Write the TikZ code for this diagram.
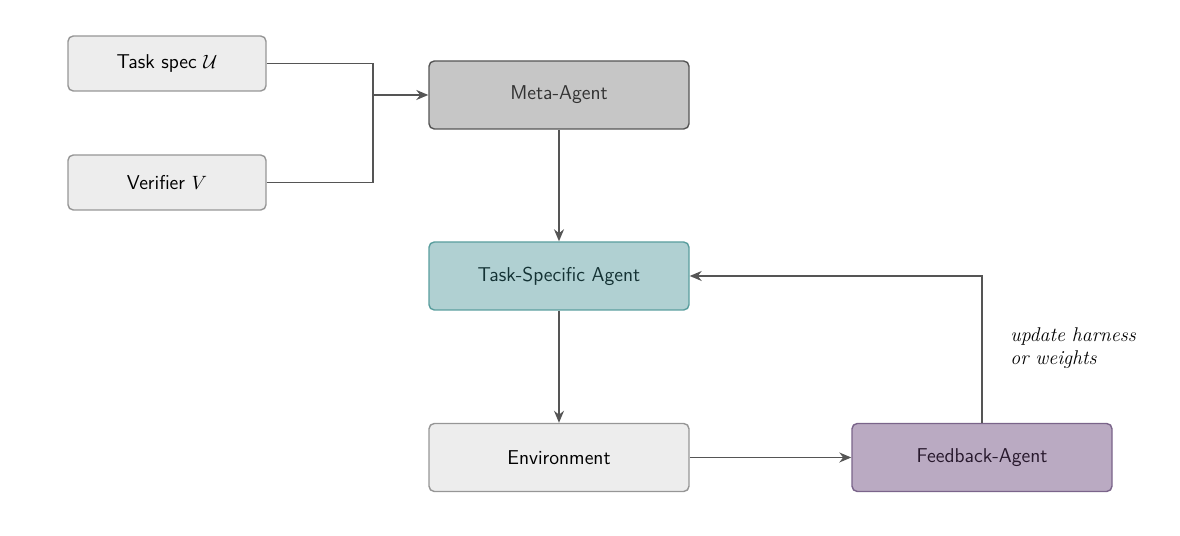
\documentclass[tikz,border=0pt]{standalone}
\usepackage{amsmath, amssymb}
\usepackage{xcolor}
\usepackage{tikz}
\usetikzlibrary{positioning, arrows.meta}
\definecolor{boxgray}{RGB}{237, 237, 237}
\definecolor{boxedge}{RGB}{150, 150, 150}
\definecolor{metagray}{RGB}{198, 198, 198}
\definecolor{metaedge}{RGB}{85, 85, 85}
\definecolor{softteal}{RGB}{176, 208, 210}
\definecolor{darkteal}{RGB}{90, 158, 158}
\definecolor{tealtext}{RGB}{20, 50, 52}
\definecolor{softpurple}{RGB}{186, 170, 194}
\definecolor{darkpurple}{RGB}{122, 100, 138}
\definecolor{purpletext}{RGB}{40, 25, 45}
\definecolor{flowgray}{RGB}{85, 85, 85}
\tikzset{
  block/.style={draw=boxedge, fill=boxgray, rounded corners=3pt, thick,
    minimum width=5.2cm, minimum height=1.36cm, font=\sffamily\fontsize{11.4}{13.5}\selectfont},
  inputbox/.style={block, minimum width=3.96cm, minimum height=1.1cm},
  flow/.style={-{Stealth[length=2.4mm, width=2mm]}, thick, flowgray},
  link/.style={thick, flowgray}
}

\begin{document}
\begin{tikzpicture}
			\useasboundingbox (0,0) rectangle (23.6,10.72);
			\node[inputbox] (taskspec) at (3.34,9.45) {Task spec $\mathcal{U}$};
			\node[inputbox] (verifier) at (3.34,7.07) {Verifier $V$};
			\node[block, fill=metagray, draw=metaedge, text=black!80] (meta) at (11.18,8.82) {Meta-Agent};
			\node[block, fill=softteal, draw=darkteal, text=tealtext] (tsagent) at (11.18,5.2) {Task-Specific Agent};
			\node[block] (env) at (11.18,1.57) {Environment};
			\node[block, fill=softpurple, draw=darkpurple, text=purpletext] (feedback) at (19.64,1.57) {Feedback-Agent};
			\coordinate (merge) at (7.46,8.82);
			\draw[link] (taskspec.east) -| (merge);
			\draw[link] (verifier.east) -| (merge);
			\draw[flow] (merge) -- (meta.west);
			\draw[flow] (meta) -- (tsagent);
			\draw[flow] (tsagent) -- (env);
			\draw[flow] (env) -- (feedback);
			\draw[flow] (feedback.north) |- (tsagent.east);
			\node[anchor=west, align=left, inner sep=0pt, font=\itshape\fontsize{11.3}{13.2}\selectfont] (updlabel) at (20.2,3.76) {update harness\\or weights};
		\end{tikzpicture}
\end{document}
